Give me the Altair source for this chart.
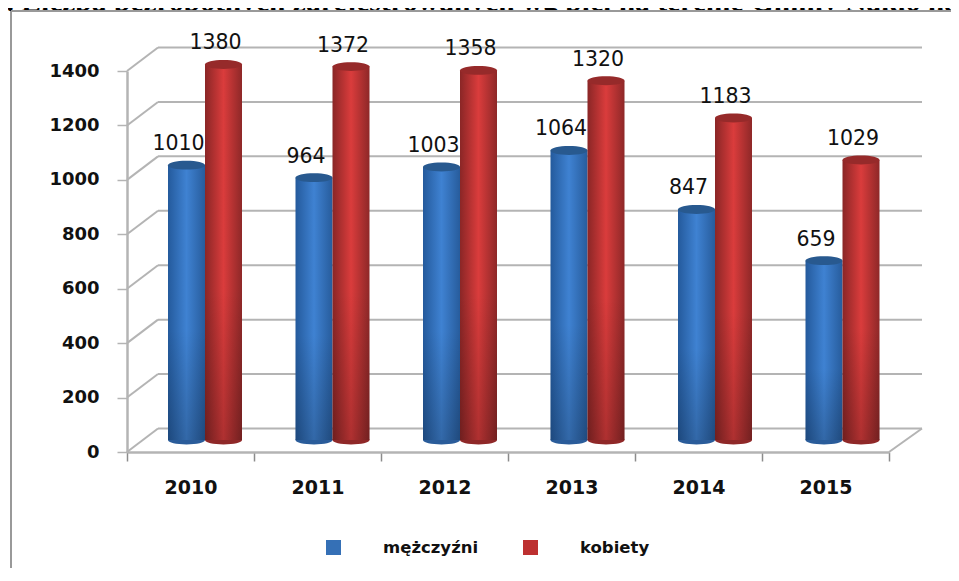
import altair as alt
import pandas as pd

years = ["2010", "2011", "2012", "2013", "2014", "2015"]
men = [1010, 964, 1003, 1064, 847, 659]
women = [1380, 1372, 1358, 1320, 1183, 1029]
ticks = [0, 200, 400, 600, 800, 1000, 1200, 1400]
series = ["mężczyźni", "kobiety"]
title_text = "7 . Liczba bezrobotnych zarejestrowanych wg płci na terenie Gminy Nakło na"

GRAY = "#b4b4b4"
ELLIPSE = "M-1,0A1,0.24 0 1,1 1,0A1,0.24 0 1,1 -1,0Z"
BAR_W = 37
DEPTH = -23.5
LIFT = -12

tick_df = pd.DataFrame({"v": ticks})
men_df = pd.DataFrame({"year": years, "v": men})
women_df = pd.DataFrame({"year": years, "v": women})
legend_df = pd.DataFrame({"year": years[:2], "v": [0, 0], "series": series})

y_scale = alt.Scale(domain=[0, 1400], nice=False)
y_axis = alt.Axis(values=ticks, format="d", tickSize=10, tickWidth=1.5, tickColor=GRAY, domainColor=GRAY,
                  domainWidth=2.5, labelFont="DejaVu Sans", labelFontWeight="bold", labelFontSize=18,
                  labelColor="#111111", labelPadding=18, grid=False)
y_plain = alt.Y("v:Q", title=None, scale=y_scale, axis=y_axis)


def hgrad(edge_l, mid, edge_r):
    return alt.LinearGradient(
        gradient="linear", x1=0, x2=1, y1=0, y2=0,
        stops=[alt.GradientStop(offset=0, color=edge_l),
               alt.GradientStop(offset=0.5, color=mid),
               alt.GradientStop(offset=1, color=edge_r)])


shade = alt.LinearGradient(
    gradient="linear", x1=0, x2=0, y1=0, y2=1,
    stops=[alt.GradientStop(offset=0, color="rgba(0,0,0,0)"),
           alt.GradientStop(offset=0.6, color="rgba(0,0,0,0)"),
           alt.GradientStop(offset=1, color="rgba(0,0,0,0.2)")])


def band_x(rng):
    return alt.X("year:N", title=None,
                 scale=alt.Scale(range=rng, paddingInner=0, paddingOuter=0, domain=years, round=False), axis=None)


def cylinder(df, rng, grad, bottom, top):
    x = band_x(rng)
    base = alt.Chart(df)
    zero = df.assign(v=0)
    return [
        alt.Chart(zero).mark_point(shape=ELLIPSE, filled=True, opacity=1, size=BAR_W ** 2, color=bottom, yOffset=LIFT).encode(x=x, y=y_plain),
        base.mark_bar(width=BAR_W, color=grad, yOffset=LIFT, y2Offset=LIFT).encode(x=x, y=y_plain, y2=alt.datum(0)),
        base.mark_bar(width=BAR_W, color=shade, yOffset=LIFT, y2Offset=LIFT).encode(x=x, y=y_plain, y2=alt.datum(0)),
        base.mark_point(shape=ELLIPSE, filled=True, opacity=1, size=BAR_W ** 2, color=top, yOffset=LIFT).encode(x=x, y=y_plain),
    ]


def labels(df, rng):
    return alt.Chart(df).mark_text(font="DejaVu Sans", fontSize=20.5, color="#111111", dx=-8, dy=-33).encode(
        x=band_x(rng), y=y_plain, text="v:Q")


men_rng = [-4.25, 760.75]
women_rng = [32.75, 797.75]

title = alt.Chart(tick_df.head(1)).mark_text(
    font="Liberation Serif", fontWeight="bold", fontSize=29.5, align="right", baseline="alphabetic", color="black"
).encode(x=alt.value(832), y=alt.value(-60), text=alt.value(title_text))
title_mask = alt.Chart(tick_df.head(1)).mark_rect(color="white").encode(
    x=alt.value(-116), x2=alt.value(832), y=alt.value(-60), y2=alt.value(-50))
frame_top = alt.Chart(tick_df.head(1)).mark_rule(color="#999999", strokeWidth=2).encode(
    x=alt.value(-116), x2=alt.value(832), y=alt.value(-60))
frame_left = alt.Chart(tick_df.head(1)).mark_rule(color="#999999", strokeWidth=2).encode(
    x=alt.value(-116), y=alt.value(-60), y2=alt.value(510))

back = alt.Chart(tick_df).mark_rule(color=GRAY, strokeWidth=2, yOffset=DEPTH, y2Offset=DEPTH).encode(
    x=alt.value(31), x2=alt.value(795), y=y_plain, y2="v:Q")
sides = alt.Chart(tick_df).mark_rule(color=GRAY, strokeWidth=2, y2Offset=DEPTH).encode(
    x=alt.value(0), x2=alt.value(31), y=y_plain, y2="v:Q")
floor_side = alt.Chart(tick_df.head(1)).mark_rule(color=GRAY, strokeWidth=2, y2Offset=DEPTH).encode(
    x=alt.value(762), x2=alt.value(795), y=y_plain, y2="v:Q")

axes = alt.Chart(men_df).mark_rule(opacity=0).encode(
    x=alt.X("year:N", title=None,
            scale=alt.Scale(range=[0, 762], paddingInner=0, paddingOuter=0, domain=years, round=False),
            axis=alt.Axis(tickBand="extent", labelAngle=0, tickSize=9, tickWidth=1.5, tickColor="#8c8c8c",
                          domainColor=GRAY, domainWidth=2.5, labelFont="DejaVu Sans", labelFontWeight="bold",
                          labelFontSize=19, labelColor="#111111", labelPadding=17, grid=False)),
    y=y_plain,
)

legend = alt.Chart(legend_df).mark_square(size=0).encode(
    x=band_x([0, 762]),
    y=y_plain,
    color=alt.Color("series:N", scale=alt.Scale(domain=series, range=["#3570b6", "#bd3030"]), title=None,
                    legend=alt.Legend(orient="none", legendX=198, legendY=468, direction="horizontal",
                                      symbolType="square", symbolSize=225, labelOffset=41, columnPadding=43,
                                      labelFont="DejaVu Sans", labelFontWeight="bold", labelFontSize=16.5,
                                      labelColor="#111111", symbolOpacity=1)),
)

layers = [title, title_mask, frame_top, frame_left, back, sides, floor_side, axes]
layers += cylinder(men_df, men_rng, hgrad("#245a9c", "#3f82d2", "#275c9c"), "#2a5c9a", "#28598f")
layers += cylinder(women_df, women_rng, hgrad("#8a2626", "#da3c3c", "#8e2828"), "#8f2828", "#962a2a")
layers += [labels(men_df, men_rng), labels(women_df, women_rng), legend]

chart = alt.layer(*layers).resolve_scale(x="independent").properties(
    width=762, height=381, autosize="none",
    padding={"left": 119, "top": 63, "right": 62, "bottom": 116},
).configure_view(stroke=None)

chart.save("out.html", embed_options={"renderer": "svg", "actions": False})
